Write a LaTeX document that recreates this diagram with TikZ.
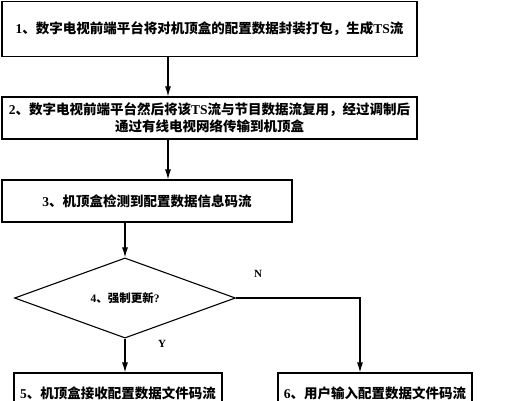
\documentclass[tikz,border=0pt]{standalone}
\usepackage{fontspec}
\setmainfont{Liberation Serif}
\newfontfamily\cjk{Noto Sans CJK SC}
\newcommand{\lat}[1]{{\rmfamily\bfseries #1}}
\usetikzlibrary{shapes.geometric, arrows.meta}

\begin{document}
\begin{tikzpicture}[x=1pt, y=-1pt, line width=1.1pt, >={Latex[length=10pt,width=6pt]},
  stepbox/.style={draw, rectangle, inner sep=0pt, align=center,
    font=\cjk\bfseries\fontsize{13.5}{17}\selectfont},
  askbox/.style={draw, diamond, inner sep=0pt,
    font=\cjk\bfseries\fontsize{11.5}{14}\selectfont},
  tag/.style={font=\rmfamily\bfseries\fontsize{11}{13}\selectfont}]
  \clip (0,0) rectangle (506,400);

  \node[stepbox, minimum width=415pt, minimum height=55pt] (S1) at (209.5,29)
    {\lat{1}、数字电视前端平台将对机顶盒的配置数据封装打包，生成\lat{TS}流};
  \node[stepbox, minimum width=415pt, minimum height=42pt] (S2) at (209.5,118)
    {\lat{2}、数字电视前端平台然后将该\lat{TS}流与节目数据流复用，经过调制后\\通过有线电视网络传输到机顶盒};
  \node[stepbox, minimum width=290pt, minimum height=42pt] (S3) at (147,201)
    {\lat{3}、机顶盒检测到配置数据信息码流};

  \node[askbox, minimum width=221pt, minimum height=69pt] (S4) at (125,298)
    {\lat{4}、强制更新\lat{?}};

  \node[stepbox, minimum width=208pt, minimum height=40pt] (S5) at (118,393)
    {\lat{5}、机顶盒接收配置数据文件码流};
  \node[stepbox, minimum width=194pt, minimum height=40pt] (S6) at (375,393)
    {\lat{6}、用户输入配置数据文件码流};

  \coordinate (M) at (168,0);

  \draw[->] (S1.south -| M) -- (S2.north -| M);
  \draw[->] (S2.south -| M) -- (S3.north -| M);
  \draw[->] (S3.south -| S4.north) -- (S4.north);
  \draw[->] (S4.south) -- (S5.north -| S4.south);
  \draw[->] (S4.east) -| ([xshift=-15pt]S6.north);

  \node[tag] (N) at (258,274) {N};
  \node[tag] (Y) at (162,344) {Y};
\end{tikzpicture}
\end{document}
